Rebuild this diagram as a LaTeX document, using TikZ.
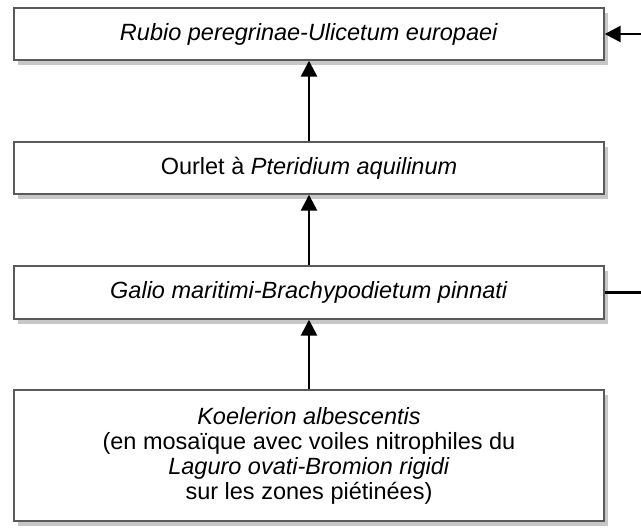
\documentclass[tikz,border=0pt]{standalone}
\usepackage{fontspec}
\setmainfont{Liberation Sans}
\usetikzlibrary{positioning,arrows.meta,shadows}
\definecolor{boxline}{RGB}{90,90,90}
\tikzset{
  veg box/.style={
    rectangle,
    draw=boxline,
    fill=white,
    line width=1.4pt,
    minimum width=590pt,
    inner sep=0pt,
    align=center,
    font=\fontsize{23.5}{25}\selectfont,
    drop shadow={shadow xshift=4pt, shadow yshift=-5pt, fill=black, opacity=0.22}
  },
  arrow/.style={
    -{Triangle[length=16pt,width=16pt]},
    line width=2.6pt
  }
}

\begin{document}
\begin{tikzpicture}[x=1pt, y=-1pt]
  \useasboundingbox (0,0) rectangle (641,532);

  % Vegetation stages
  \node[veg box, minimum height=52pt] (rubio) at (309,34) {\textit{Rubio peregrinae-Ulicetum europaei}};
  \node[veg box, minimum height=52pt] (ourlet) at (309,168) {Ourlet à \textit{Pteridium aquilinum}};
  \node[veg box, minimum height=53pt] (galio) at (309,292.5) {\textit{Galio maritimi-Brachypodietum pinnati}};
  \node[veg box, minimum height=131pt] (koel) at (309,455.5) {\textit{Koelerion albescentis}\\(en mosaïque avec voiles nitrophiles du\\\textit{Laguro ovati-Bromion rigidi}\\sur les zones piétinées)};

  % Succession
  \draw[arrow] (koel) -- (galio);
  \draw[arrow] (galio) -- (ourlet);
  \draw[arrow] (ourlet) -- (rubio);

  % Side links
  \coordinate (inlink) at (641,34);
  \coordinate (outlink) at (641,292.5);
  \draw[arrow] (inlink) -- (rubio.east);
  \draw[line width=2.6pt] (galio.east) -- (outlink);

\end{tikzpicture}
\end{document}
